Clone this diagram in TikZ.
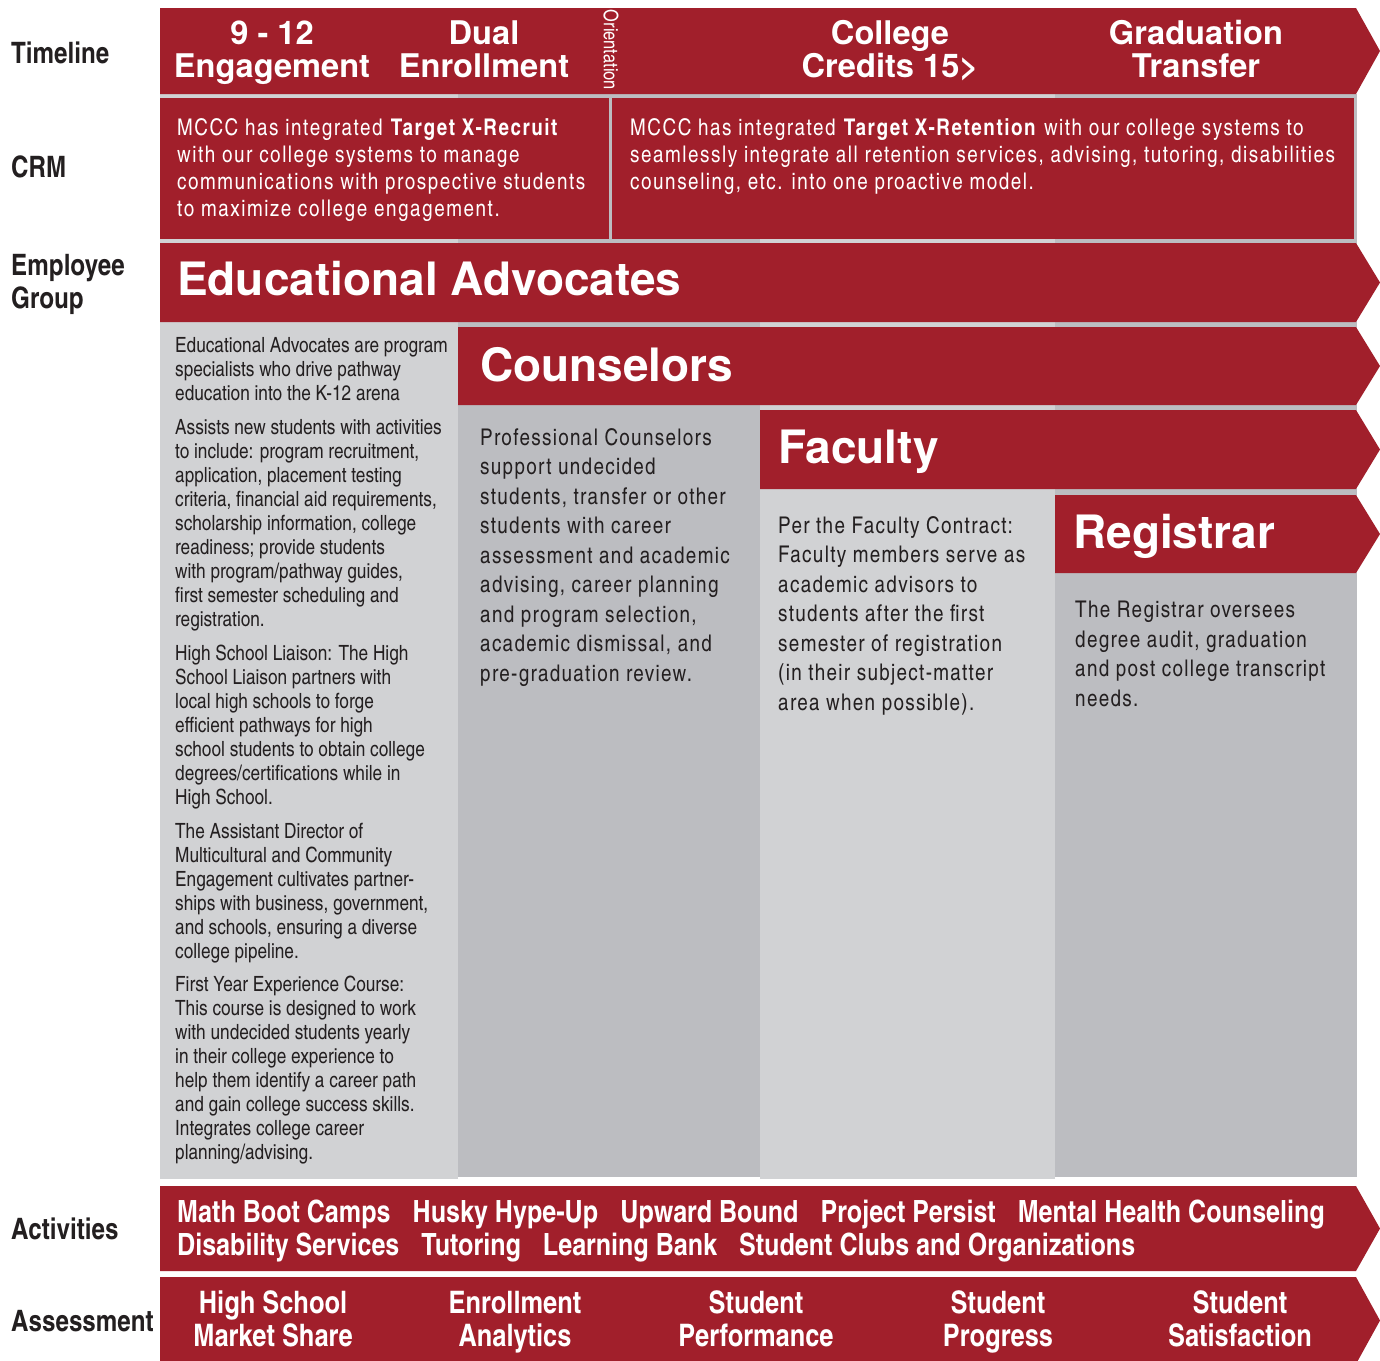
\documentclass[tikz,border=0pt]{standalone}
\usepackage{fontspec}
\setmainfont{TeX Gyre Heros}
\newfontfamily\cnfont{texgyreheroscn}[Extension=.otf, UprightFont=*-regular, BoldFont=*-bold]
\newfontfamily\cntrack{texgyreheroscn}[Extension=.otf, UprightFont=*-regular, BoldFont=*-bold, LetterSpace=6.7]
\newfontfamily\cnbody{texgyreheroscn}[Extension=.otf, UprightFont=*-regular, BoldFont=*-bold, LetterSpace=5.7]
\definecolor{bandred}{HTML}{A11F2B}
\definecolor{paleg}{HTML}{D1D2D4}
\definecolor{midg}{HTML}{BCBDC1}
\definecolor{ink}{HTML}{231F20}
% a red band that ends in a chevron point on the right
\newcommand\chevronband[3]{%
  \fill[bandred] (#1,#2) -- (1356,#2) -- (1380,{(#2+#3)/2}) -- (1356,#3) -- (#1,#3) -- cycle;}
\newcommand\itemgap{\hspace{0.72em}}
\begin{document}
% multi-line nodes are anchored at the baseline of their last line
\begin{tikzpicture}[x=1pt,y=-1pt,
  hdr/.style={text=white, font=\fontsize{32.6}{33}\selectfont\bfseries, align=center, anchor=base, inner sep=0},
  bigtitle/.style={text=white, font=\fontsize{46}{50}\selectfont\bfseries, anchor=base west, inner sep=0},
  rowlabel/.style={text=ink, font=\cnfont\bfseries\fontsize{29.5}{33}\selectfont, anchor=base west, align=left, inner sep=0},
  crmtext/.style={text=white, font=\cntrack\fontsize{23}{27}\selectfont, anchor=base west, align=left, inner sep=0},
  advtext/.style={text=ink, font=\cnfont\fontsize{21}{24}\selectfont, anchor=base west, align=left, inner sep=0},
  bodytext/.style={text=ink, font=\cnbody\fontsize{23}{29.5}\selectfont, anchor=base west, align=left, inner sep=0},
  acttext/.style={text=white, font=\cnfont\bfseries\fontsize{30.6}{33}\selectfont, anchor=base west, align=left, inner sep=0},
  asstext/.style={text=white, font=\cnfont\bfseries\fontsize{31}{33}\selectfont, anchor=base, align=center, inner sep=0}]
\useasboundingbox (0,0) rectangle (1380,1360);
\fill[white] (0,0) rectangle (1380,1360);

% grey columns behind the bands
\fill[paleg] (160,94) rectangle (458,1179);
\fill[midg]  (458,94) rectangle (760,1177);
\fill[paleg] (760,94) rectangle (1055,1179);
\fill[midg]  (1055,94) rectangle (1357,1177);

% timeline band
\chevronband{160}{8}{94}
% CRM band, split in two
\fill[bandred] (160,98) rectangle (608.5,239);
\fill[bandred] (611.5,98) rectangle (1354,239);
% employee group bands
\chevronband{160}{243}{322}
\chevronband{458}{327}{405}
\chevronband{760}{410}{489}
\chevronband{1055}{495}{573}
% activities and assessment bands
\chevronband{160}{1186}{1271}
\chevronband{160}{1277}{1364}

% row labels
\node[rowlabel] (lTimeline) at (11,63) {Timeline};
\node[rowlabel] (lCRM) at (11,177) {CRM};
\node[rowlabel] (lGroup) at (11,308) {Employee\\Group};
\node[rowlabel] (lAct) at (11,1239) {Activities};
\node[rowlabel] (lAss) at (11,1331) {Assessment};

% timeline stages
\node[hdr] (tEngage) at (272,77) {9 - 12\\Engagement};
\node[hdr] (tDual) at (484,77) {Dual\\Enrollment};
\node[text=white, font=\cnfont\fontsize{20}{20}\selectfont, rotate=-90, inner sep=0] (tOrient) at (611,50) {Orientation};
\node[hdr] (tCredits) at (890,77) {College\\Credits 15>};
\node[hdr] (tGrad) at (1196,77) {Graduation\\Transfer};

% CRM texts
\node[crmtext] (crmRecruit) at (177,216) {MCCC has integrated \textbf{Target X-Recruit}\\with our college systems to manage\\communications with prospective students\\to maximize college engagement.};
\node[crmtext] (crmRetain) at (630,189) {MCCC has integrated \textbf{Target X-Retention} with our college systems to\\seamlessly integrate all retention services, advising, tutoring, disabilities\\counseling, etc. into one proactive model.};

% employee groups
\node[bigtitle] (gAdv) at (177,295) {Educational Advocates};
\node[bigtitle] (gCoun) at (480,381) {Counselors};
\node[bigtitle] (gFac) at (778,463) {Faculty};
\node[bigtitle] (gReg) at (1073,548) {Registrar};

% educational advocates column
\node[advtext] (adv1) at (175,400) {Educational Advocates are program\\specialists who drive pathway\\education into the K-12 arena};
\node[advtext] (adv2) at (175,626) {Assists new students with activities\\to include: program recruitment,\\application, placement testing\\criteria, financial aid requirements,\\scholarship information, college\\readiness; provide students\\with program/pathway guides,\\first semester scheduling and\\registration.};
\node[advtext] (adv3) at (175,804) {High School Liaison: The High\\School Liaison partners with\\local high schools to forge\\efficient pathways for high\\school students to obtain college\\degrees/certifications while in\\High School.};
\node[advtext] (adv4) at (175,958) {The Assistant Director of\\Multicultural and Community\\Engagement cultivates partner-\\ships with business, government,\\and schools, ensuring a diverse\\college pipeline.};
\node[advtext] (adv5) at (175,1159) {First Year Experience Course:\\This course is designed to work\\with undecided students yearly\\in their college experience to\\help them identify a career path\\and gain college success skills.\\Integrates college career\\planning/advising.};

% other group descriptions
\node[bodytext] (dCoun) at (480,681) {Professional Counselors\\support undecided\\students, transfer or other\\students with career\\assessment and academic\\advising, career planning\\and program selection,\\academic dismissal, and\\pre-graduation review.};
\node[bodytext] (dFac) at (778,710) {Per the Faculty Contract:\\Faculty members serve as\\academic advisors to\\students after the first\\semester of registration\\(in their subject-matter\\area when possible).};
\node[bodytext] (dReg) at (1075,706) {The Registrar oversees\\degree audit, graduation\\and post college transcript\\needs.};

% activities
\node[acttext] (acts) at (177,1255) {Math Boot Camps\itemgap Husky Hype-Up\itemgap Upward Bound\itemgap Project Persist\itemgap Mental Health Counseling\\Disability Services\itemgap Tutoring\itemgap Learning Bank\itemgap Student Clubs and Organizations};

% assessment measures
\node[asstext] (aMarket) at (273,1346) {High School\\Market Share};
\node[asstext] (aEnroll) at (515,1346) {Enrollment\\Analytics};
\node[asstext] (aPerf) at (756,1346) {Student\\Performance};
\node[asstext] (aProg) at (998,1346) {Student\\Progress};
\node[asstext] (aSat) at (1240,1346) {Student\\Satisfaction};
\end{tikzpicture}
\end{document}
